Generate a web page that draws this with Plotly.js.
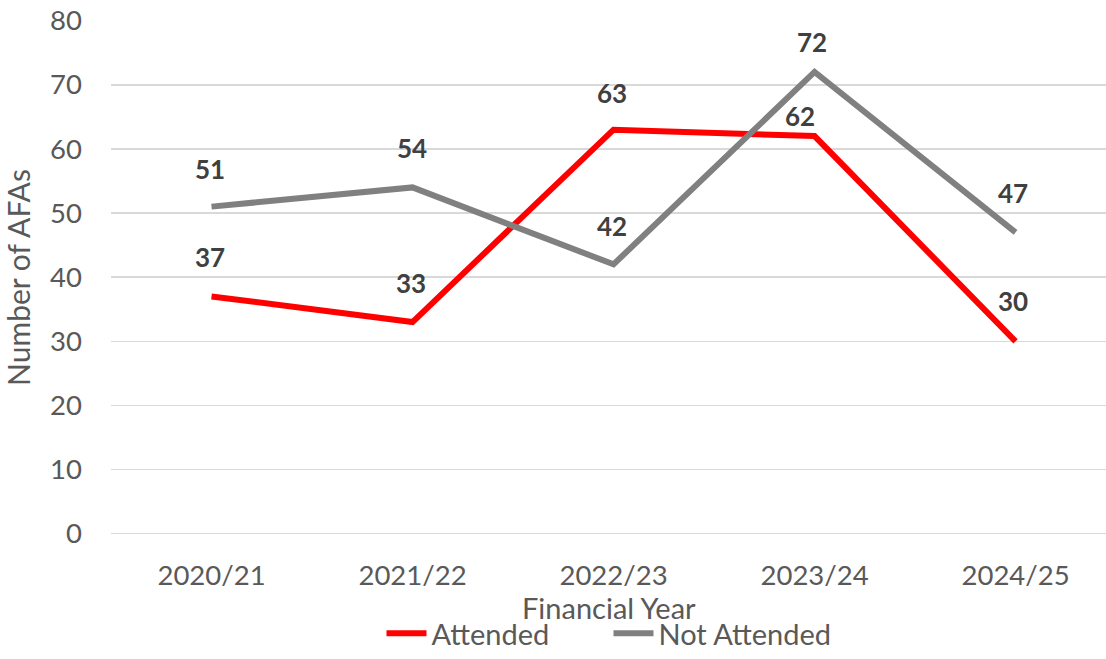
<!DOCTYPE html>
<html>
<head>
<meta charset="utf-8">
<script src="https://cdn.plot.ly/plotly-3.0.1.min.js"></script>
<style>html,body{margin:0;padding:0;background:#fff;}#chart{width:1106px;height:659px;}</style>
</head>
<body>
<div id="chart"></div>
<script>
const years = ["2020/21", "2021/22", "2022/23", "2023/24", "2024/25"];
const attended = [37, 33, 63, 62, 30];
const notAttended = [51, 54, 42, 72, 47];
const yTicks = [0, 10, 20, 30, 40, 50, 60, 70, 80];
const xAxisTitle = "Financial Year";
const yAxisTitle = "Number of AFAs";

// label nudges in pixels (style only)
const attendedLabelDx = [-2, -2, -2, -15, -3];
const attendedLabelDy = [39, 39, 37, 20, 40];
const notAttendedLabelDx = [-2, -1, -2, -3, -3];
const notAttendedLabelDy = [38, 39, 38, 30, 39];

const FONT = "Lato, 'Open Sans', sans-serif";
const RED = "#FF0000";
const GREY = "#808080";
const TXT = "#595959";

const traces = [
  {x: years, y: attended, name: "Attended", mode: "lines", type: "scatter",
   line: {color: RED, width: 6}},
  {x: years, y: notAttended, name: "Not Attended", mode: "lines", type: "scatter",
   line: {color: GREY, width: 6}}
];

const annotations = [];
function addLabels(vals, dx, dy) {
  vals.forEach((v, i) => {
    annotations.push({x: years[i], y: v, xref: "x", yref: "y", text: "<b>" + v + "</b>",
      showarrow: false, yshift: dy[i], xshift: dx[i], xanchor: "center", yanchor: "middle",
      font: {family: FONT, size: 26, color: "#404040"}});
  });
}
addLabels(attended, attendedLabelDx, attendedLabelDy);
addLabels(notAttended, notAttendedLabelDx, notAttendedLabelDy);

// x-axis title placed as a paper annotation
annotations.push({xref: "paper", yref: "paper", x: 0.5, y: -0.1417, xanchor: "center", yanchor: "middle",
  showarrow: false, text: xAxisTitle, font: {family: FONT, size: 29, color: TXT}});

const layout = {
  width: 1106, height: 659,
  margin: {l: 111, r: 0, t: 20, b: 124},
  paper_bgcolor: "#fff", plot_bgcolor: "#fff",
  font: {family: FONT, size: 27.5, color: TXT},
  showlegend: true,
  legend: {orientation: "h", xref: "paper", x: 0.5, xanchor: "center",
    yref: "container", y: 0, yanchor: "bottom",
    font: {family: FONT, size: 29, color: TXT}, itemwidth: 40,
    entrywidth: 172, entrywidthmode: "pixels"},
  xaxis: {type: "category", range: [-0.5, 4.45], showgrid: false, zeroline: false,
    showline: false, ticks: "", ticklabelstandoff: 21, automargin: false,
    tickfont: {family: FONT, size: 27.5, color: TXT}},
  yaxis: {range: [-0.2, 80.1], tickvals: yTicks, showgrid: true, gridcolor: "#D9D9D9", gridwidth: 1.5,
    zeroline: false, showline: false, ticks: "", ticklabelstandoff: 28, automargin: false,
    tickfont: {family: FONT, size: 27.5, color: TXT},
    title: {text: yAxisTitle, standoff: 10, font: {family: FONT, size: 30, color: TXT}}},
  annotations: annotations
};

Plotly.newPlot("chart", traces, layout, {displayModeBar: false, staticPlot: true});
</script>
</body>
</html>
